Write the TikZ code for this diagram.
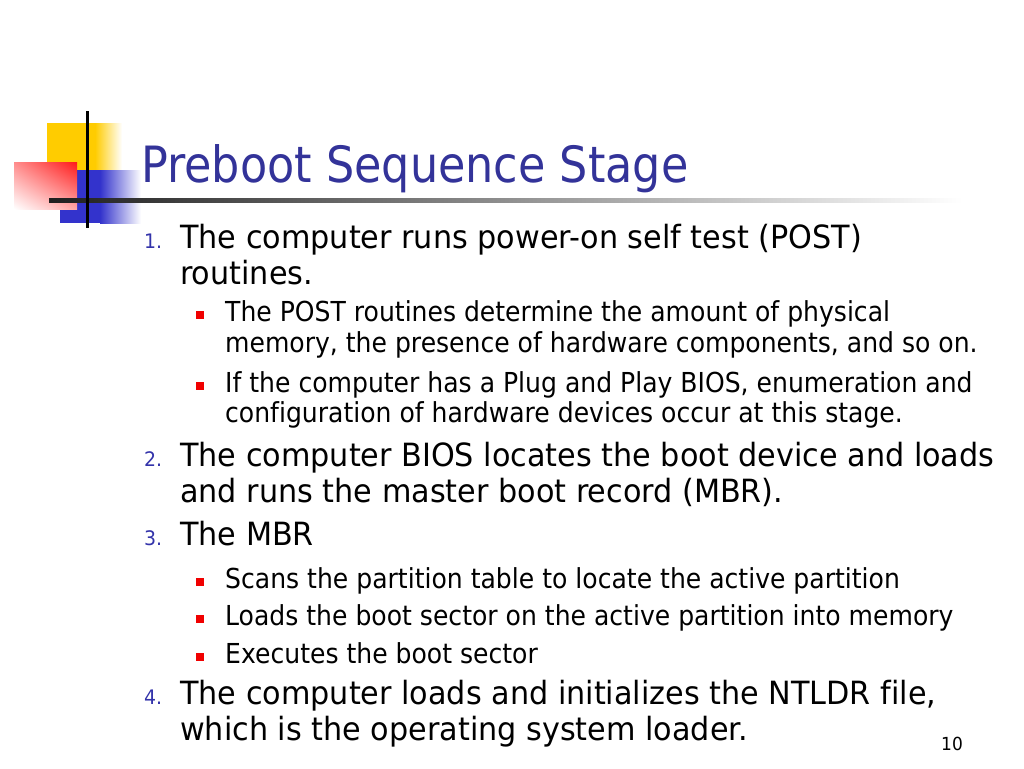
\documentclass[tikz,border=0pt]{standalone}
\usepackage{fontspec}
\setmainfont{DejaVu Sans}[FakeStretch=0.945, Ligatures=NoCommon]
\newfontfamily\titlefont{DejaVu Sans}[FakeStretch=0.89, Ligatures=NoCommon]
\newfontfamily\subfont{DejaVu Sans}[FakeStretch=0.912, Ligatures=NoCommon]
\usetikzlibrary{shadings}

\definecolor{titleblue}{RGB}{51,51,153}
\definecolor{numblue}{RGB}{51,51,170}
\definecolor{decoyellow}{RGB}{255,204,0}
\definecolor{decoblue}{RGB}{51,51,204}
\definecolor{bulletred}{RGB}{240,0,0}

\tikzset{
	line/.style={anchor=base west, inner sep=0pt, font=\fontsize{32}{36}\selectfont},
	subline/.style={anchor=base west, inner sep=0pt, font=\subfont\fontsize{27.5}{31}\selectfont},
	num/.style={anchor=base west, inner sep=0pt, text=numblue, font=\fontsize{20}{22}\selectfont},
	sq/.style={fill=bulletred, minimum size=8pt, inner sep=0pt, anchor=south west},
}

\begin{document}
\begin{tikzpicture}[x=1pt, y=-1pt]
	\useasboundingbox (0, 0) rectangle (1024, 768);

	% corner decoration
	\fill[decoyellow] (47, 123) rectangle (95, 175);
	\shade[left color=decoyellow, right color=white] (95, 123) rectangle (122, 175);
	\fill[decoblue] (60, 170) rectangle (100, 223);
	\shade[left color=decoblue, right color=white] (100, 170) rectangle (141, 223);
	\shade[upper right=red!90, upper left=red!45, lower right=red!35, lower left=white]
		(14, 162) rectangle (77, 209);
	\shade[left color=black!88, right color=white] (49, 198.5) rectangle (962, 202.5);
	\draw[line width=3pt] (87, 111) -- (87, 228);

	\node[anchor=base west, inner sep=0pt, text=titleblue, font=\titlefont\fontsize{50}{56}\selectfont]
		(title) at (141, 182) {Preboot Sequence Stage};

	% item 1
	\node[num] (n1) at (144, 248) {1.};
	\node[line] (l1a) at (180, 248) {The computer runs power-on self test (POST)};
	\node[line] (l1b) at (180, 284) {routines.};
	\node[sq] (b1) at (196, 319) {};
	\node[subline] (s1a) at (225, 321) {The POST routines determine the amount of physical};
	\node[subline] (s1b) at (225, 352) {memory, the presence of hardware components, and so on.};
	\node[sq] (b2) at (196, 390) {};
	\node[subline] (s2a) at (225, 392) {If the computer has a Plug and Play BIOS, enumeration and};
	\node[subline] (s2b) at (225, 422) {configuration of hardware devices occur at this stage.};

	% item 2
	\node[num] (n2) at (144, 466) {2.};
	\node[line] (l2a) at (180, 466) {The computer BIOS locates the boot device and loads};
	\node[line] (l2b) at (180, 502) {and runs the master boot record (MBR).};

	% item 3
	\node[num] (n3) at (144, 545) {3.};
	\node[line] (l3a) at (180, 545) {The MBR};
	\node[sq] (b3) at (196, 586) {};
	\node[subline] (s3a) at (225, 588) {Scans the partition table to locate the active partition};
	\node[sq] (b4) at (196, 623) {};
	\node[subline] (s3b) at (225, 625) {Loads the boot sector on the active partition into memory};
	\node[sq] (b5) at (196, 661) {};
	\node[subline] (s3c) at (225, 663) {Executes the boot sector};

	% item 4
	\node[num] (n4) at (144, 704) {4.};
	\node[line] (l4a) at (180, 704) {The computer loads and initializes the NTLDR file,};
	\node[line] (l4b) at (180, 740) {which is the operating system loader.};

	\node[anchor=base west, inner sep=0pt, font=\fontsize{18}{20}\selectfont] (page) at (941, 750) {10};
\end{tikzpicture}
\end{document}
